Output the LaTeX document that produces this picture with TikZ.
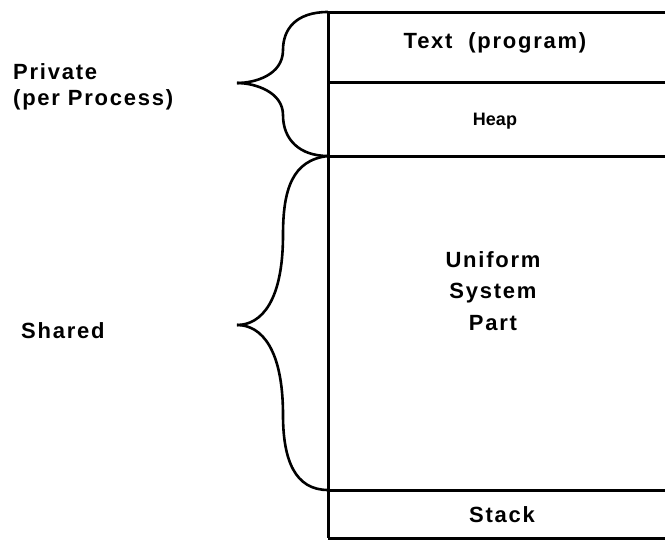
\documentclass[tikz,border=0pt]{standalone}
\usepackage{fontspec}
\setmainfont{Liberation Sans}[LetterSpace=8]
\tikzset{lbl/.style={font=\fontsize{22}{26}\selectfont\bfseries,inner sep=0pt},
	seg/.style={line width=3pt},
	brace/.style={line width=2.6pt}}

\begin{document}
\begin{tikzpicture}[x=1pt,y=-1pt]
			\useasboundingbox (0,0) rectangle (665,544);
			% memory column
			\coordinate (t0) at (328,12);
			\coordinate (t1) at (328,82);
			\coordinate (t2) at (328,156);
			\coordinate (t3) at (328,490);
			\coordinate (t4) at (328,538);
			\draw [seg] (t0) -- (665,12);
			\draw [seg] (t1) -- (665,82);
			\draw [seg] (t2) -- (665,156);
			\draw [seg] (t3) -- (665,490);
			\draw [seg] (t4) -- (665,538);
			\draw [seg] (t0) -- (t4);
			% braces
			\coordinate (tipA) at (237,83);
			\coordinate (tipB) at (237,325);
			\draw [brace] (t0) .. controls (295,12) and (283,30) .. (283,50) .. controls (283,75) and (255,83) .. (tipA);
			\draw [brace] (tipA) .. controls (255,83) and (283,92) .. (283,115) .. controls (283,140) and (300,156) .. (t2);
			\draw [brace] (t2) .. controls (292,160) and (283,190) .. (283,235) .. controls (283,300) and (262,325) .. (tipB);
			\draw [brace] (tipB) .. controls (262,325) and (283,350) .. (283,415) .. controls (283,460) and (295,490) .. (t3);
			% labels
			\node[lbl] (text) at (495,43) {Text\ \ (program)};
			\node[lbl,font=\fontsize{18}{22}\selectfont\bfseries\addfontfeature{LetterSpace=0}] (heap) at (495,121) {Heap};
			\node[lbl,align=center,font=\fontsize{22}{31.5}\selectfont\bfseries] (usp) at (493,291) {Uniform\\System\\Part};
			\node[lbl] (stack) at (502,515) {Stack};
			\node[lbl,anchor=west,align=left] (priv) at (13,87) {Private\\(per Process)};
			\node[lbl,anchor=west] (shared) at (21,331) {Shared};
	\end{tikzpicture}
\end{document}
